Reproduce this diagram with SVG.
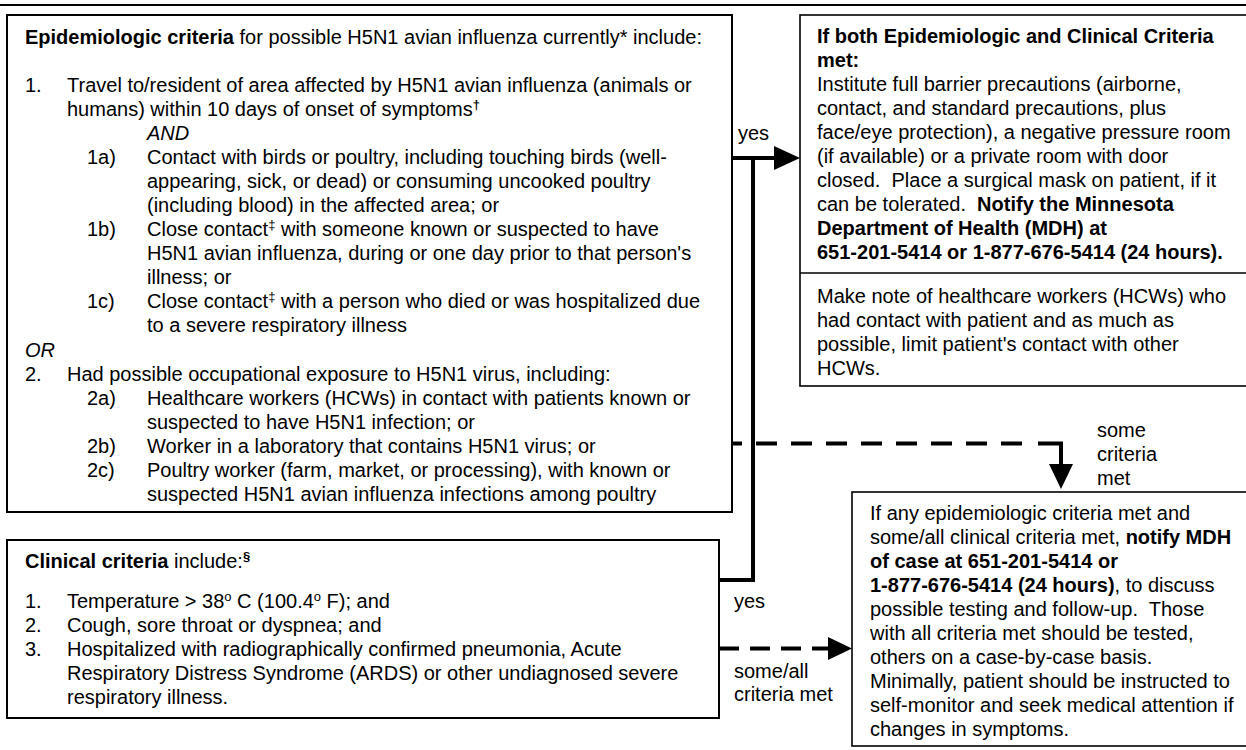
<svg xmlns="http://www.w3.org/2000/svg" width="1246" height="750" viewBox="0 0 1246 750">
<style>
text{font-family:"Liberation Sans",Arial,Helvetica,sans-serif;font-size:20px;fill:#000;white-space:pre}
.b{font-weight:bold}
.i{font-style:italic}
.sup{font-size:13px}
.box{fill:#fff;stroke:#000;stroke-width:2}
.box2{fill:#fff;stroke:#000;stroke-width:1.6}
.thick{fill:none;stroke:#000;stroke-width:4}
.dash1{fill:none;stroke:#000;stroke-width:4;stroke-dasharray:21 14;stroke-dashoffset:11}
.dash2{fill:none;stroke:#000;stroke-width:4;stroke-dasharray:20 11}
.head{fill:#000}
</style>
<rect width="1246" height="750" fill="#fff"/>
<line x1="0" y1="5" x2="1246" y2="5" stroke="#000" stroke-width="2"/>

<g id="connectors">
  <path class="thick" d="M719 580 H753 V158"/>
  <line class="thick" x1="732" y1="158" x2="776" y2="158"/>
  <polygon class="head" points="774,146 800,158 774,170"/>
  <path class="dash1" d="M732 443.5 H1036"/>
  <path class="thick" d="M1038 443.5 H1061 V466" stroke-linejoin="miter"/>
  <polygon class="head" points="1049,464 1073,464 1061,489"/>
  <path class="dash2" d="M719 648.5 H829"/>
  <polygon class="head" points="828,637 852,648.5 828,660"/>
  <text x="738" y="140">yes</text>
  <text x="734" y="608">yes</text>
  <text x="734" y="678">some/all</text>
  <text x="734" y="701">criteria met</text>
  <text x="1097" y="437">some</text>
  <text x="1097" y="461">criteria</text>
  <text x="1097" y="485">met</text>
</g>

<g id="epi">
  <rect class="box" x="7" y="15" width="725" height="497"/>
  <text x="25" y="44"><tspan class="b">Epidemiologic criteria</tspan> for possible H5N1 avian influenza currently* include:</text>
  <text x="25" y="92">1.</text>
  <text x="67" y="92">Travel to/resident of area affected by H5N1 avian influenza (animals or</text>
  <text x="67" y="116">humans) within 10 days of onset of symptoms<tspan class="sup b" baseline-shift="super">†</tspan></text>
  <text x="147" y="140" class="i">AND</text>
  <text x="87" y="164">1a)</text>
  <text x="147" y="164">Contact with birds or poultry, including touching birds (well-</text>
  <text x="147" y="188">appearing, sick, or dead) or consuming uncooked poultry</text>
  <text x="147" y="212">(including blood) in the affected area; or</text>
  <text x="87" y="236">1b)</text>
  <text x="147" y="236">Close contact<tspan class="sup" baseline-shift="super">‡</tspan> with someone known or suspected to have</text>
  <text x="147" y="260">H5N1 avian influenza, during or one day prior to that person's</text>
  <text x="147" y="284">illness; or</text>
  <text x="87" y="308">1c)</text>
  <text x="147" y="308">Close contact<tspan class="sup" baseline-shift="super">‡</tspan> with a person who died or was hospitalized due</text>
  <text x="147" y="332">to a severe respiratory illness</text>
  <text x="25" y="357" class="i">OR</text>
  <text x="25" y="381">2.</text>
  <text x="67" y="381">Had possible occupational exposure to H5N1 virus, including:</text>
  <text x="87" y="405">2a)</text>
  <text x="147" y="405">Healthcare workers (HCWs) in contact with patients known or</text>
  <text x="147" y="429">suspected to have H5N1 infection; or</text>
  <text x="87" y="453">2b)</text>
  <text x="147" y="453">Worker in a laboratory that contains H5N1 virus; or</text>
  <text x="87" y="477">2c)</text>
  <text x="147" y="477">Poultry worker (farm, market, or processing), with known or</text>
  <text x="147" y="501">suspected H5N1 avian influenza infections among poultry</text>
</g>

<g id="clinical">
  <rect class="box" x="7" y="540" width="712" height="178"/>
  <text x="25" y="568"><tspan class="b">Clinical criteria</tspan> include:<tspan class="sup b" baseline-shift="super">§</tspan></text>
  <text x="25" y="608">1.</text>
  <text x="67" y="608">Temperature &gt; 38<tspan class="sup" baseline-shift="super">o</tspan> C (100.4<tspan class="sup" baseline-shift="super">o</tspan> F); and</text>
  <text x="25" y="632">2.</text>
  <text x="67" y="632">Cough, sore throat or dyspnea; and</text>
  <text x="25" y="656">3.</text>
  <text x="67" y="656">Hospitalized with radiographically confirmed pneumonia, Acute</text>
  <text x="67" y="680">Respiratory Distress Syndrome (ARDS) or other undiagnosed severe</text>
  <text x="67" y="704">respiratory illness.</text>
</g>

<g id="both-met">
  <rect class="box2" x="800" y="15" width="460" height="371"/>
  <line x1="800" y1="273" x2="1246" y2="273" stroke="#000" stroke-width="1.6"/>
  <text x="817" y="43" class="b">If both Epidemiologic and Clinical Criteria</text>
  <text x="817" y="67" class="b">met:</text>
  <text x="817" y="91">Institute full barrier precautions (airborne,</text>
  <text x="817" y="115">contact, and standard precautions, plus</text>
  <text x="817" y="139">face/eye protection), a negative pressure room</text>
  <text x="817" y="163">(if available) or a private room with door</text>
  <text x="817" y="187">closed.  Place a surgical mask on patient, if it</text>
  <text x="817" y="211">can be tolerated.  <tspan class="b">Notify the Minnesota</tspan></text>
  <text x="817" y="235" class="b">Department of Health (MDH) at</text>
  <text x="817" y="259" class="b">651-201-5414 or 1-877-676-5414 (24 hours).</text>
  <text x="817" y="303">Make note of healthcare workers (HCWs) who</text>
  <text x="817" y="327">had contact with patient and as much as</text>
  <text x="817" y="351">possible, limit patient's contact with other</text>
  <text x="817" y="375">HCWs.</text>
</g>

<g id="some-met">
  <rect class="box2" x="852" y="492" width="420" height="254"/>
  <text x="870" y="520">If any epidemiologic criteria met and</text>
  <text x="870" y="544">some/all clinical criteria met, <tspan class="b">notify MDH</tspan></text>
  <text x="870" y="568" class="b">of case at 651-201-5414 or</text>
  <text x="870" y="592"><tspan class="b">1-877-676-5414 (24 hours)</tspan>, to discuss</text>
  <text x="870" y="616">possible testing and follow-up.  Those</text>
  <text x="870" y="640">with all criteria met should be tested,</text>
  <text x="870" y="664">others on a case-by-case basis.</text>
  <text x="870" y="688">Minimally, patient should be instructed to</text>
  <text x="870" y="712">self-monitor and seek medical attention if</text>
  <text x="870" y="736">changes in symptoms.</text>
</g>
</svg>
